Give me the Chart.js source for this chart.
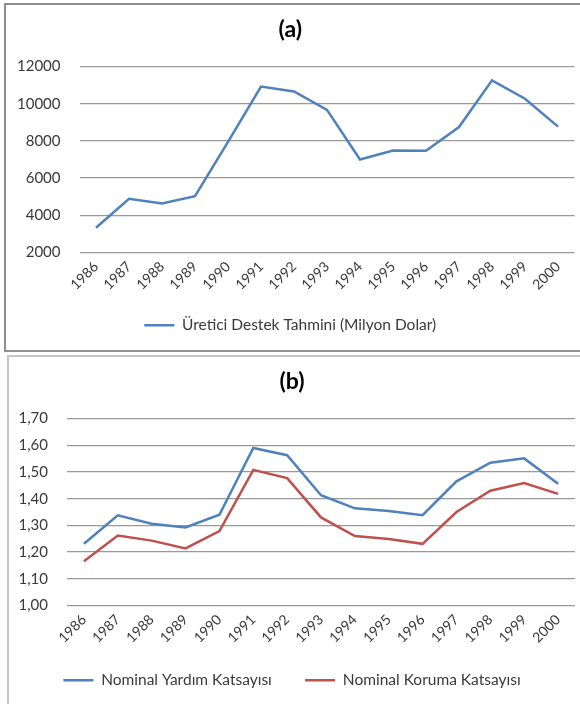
<!DOCTYPE html>
<html>
<head>
<meta charset="utf-8">
<script src="https://cdn.jsdelivr.net/npm/chart.js@4.4.1/dist/chart.umd.min.js"></script>
<style>
  html, body { margin: 0; padding: 0; background: #fff; overflow: hidden; }
  body { width: 580px; height: 704px; position: relative; }
  .box { position: absolute; box-sizing: border-box; }
  #boxA { left: 4px; top: 3px; width: 590px; height: 349px; border: 2px solid #8f8f8f; }
  #boxB { left: 7px; top: 355px; width: 590px; height: 360px; border: 2px solid #c4c4c4; }
  canvas { position: absolute; }
  #chartA { left: 6px; top: 5px; }
  #chartB { left: 9px; top: 357px; }
</style>
</head>
<body>
<div class="box" id="boxA"></div>
<div class="box" id="boxB"></div>
<canvas id="chartA" width="574" height="345" style="width:574px;height:345px"></canvas>
<canvas id="chartB" width="571" height="347" style="width:571px;height:347px"></canvas>
<script>
// years on the x axis (same for both charts)
const years = ["1986", "1987", "1988", "1989", "1990", "1991", "1992", "1993",
  "1994", "1995", "1996", "1997", "1998", "1999", "2000"];

// (a) producer support estimate, million dollars
const ureticiDestek = [3330, 4890, 4640, 5030, 7950, 10930, 10660, 9670,
  7000, 7490, 7470, 8750, 11260, 10270, 8770];

// (b) nominal assistance / protection coefficients
const nominalYardim = [1.231, 1.338, 1.306, 1.292, 1.340, 1.590, 1.563, 1.413,
  1.364, 1.354, 1.338, 1.465, 1.535, 1.551, 1.456];
const nominalKoruma = [1.166, 1.262, 1.243, 1.214, 1.279, 1.508, 1.477, 1.330,
  1.260, 1.249, 1.231, 1.350, 1.430, 1.459, 1.418];

const blue = '#4f81bd';
const red = '#c0504d';
const gridColor = '#999999';
const textColor = '#3a3a3a';
const font = 'Lato, "Open Sans", sans-serif';

Chart.defaults.font.family = font;
Chart.defaults.color = textColor;
Chart.defaults.animation = false;

function lineSet(label, data, color) {
  return {
    label: label,
    data: data,
    borderColor: color,
    backgroundColor: color,
    borderWidth: 2.5,
    pointRadius: 0,
    tension: 0
  };
}

// wider gap between legend items, like the original
function spacedLabels(chart) {
  const items = Chart.defaults.plugins.legend.labels.generateLabels(chart);
  items.forEach((it, i) => {
    if (i < items.length - 1) it.text += '\u2002\u2002\u2002';
  });
  return items;
}

function makeOptions(title, yMin, yMax, step, fmt, yWidth, xHeight, pad) {
  return {
    responsive: false,
    layout: { autoPadding: false, padding: pad },
    plugins: {
      title: {
        display: true,
        text: title,
        color: '#000',
        font: { size: 23, weight: 'bold' },
        padding: { top: 11, bottom: 23 }
      },
      legend: {
        position: 'bottom',
        labels: {
          usePointStyle: true,
          pointStyle: 'line',
          pointStyleWidth: 30,
          boxHeight: 15,
          padding: 10,
          font: { size: 15.5 },
          color: textColor,
          generateLabels: spacedLabels
        }
      },
      tooltip: { enabled: false }
    },
    scales: {
      x: {
        offset: true,
        grid: { display: false, drawTicks: false },
        border: { display: false },
        ticks: { minRotation: 45, maxRotation: 45, padding: 6, font: { size: 14 }, autoSkip: false },
        afterFit: s => { s.height = xHeight; }
      },
      y: {
        min: yMin,
        max: yMax,
        grid: { color: gridColor, lineWidth: 1.3, drawTicks: false },
        border: { display: false },
        ticks: { stepSize: step, padding: 19, font: { size: 15 }, callback: fmt },
        afterFit: s => { s.width = yWidth; }
      }
    }
  };
}

new Chart(document.getElementById('chartA'), {
  type: 'line',
  data: {
    labels: years,
    datasets: [lineSet('Üretici Destek Tahmini (Milyon Dolar)', ureticiDestek, blue)]
  },
  options: makeOptions('(a)', 2000, 12000, 2000, v => String(v), 73.5, 55,
    { left: 0, right: 5.5, top: 0, bottom: 7 })
});

new Chart(document.getElementById('chartB'), {
  type: 'line',
  data: {
    labels: years,
    datasets: [
      lineSet('Nominal Yardım Katsayısı', nominalYardim, blue),
      lineSet('Nominal Koruma Katsayısı', nominalKoruma, red)
    ]
  },
  options: makeOptions('(b)', 1.0, 1.7, 0.1, v => v.toFixed(2).replace('.', ','), 58, 57,
    { left: 0, right: 5, top: 0, bottom: 6 })
});
</script>
</body>
</html>
